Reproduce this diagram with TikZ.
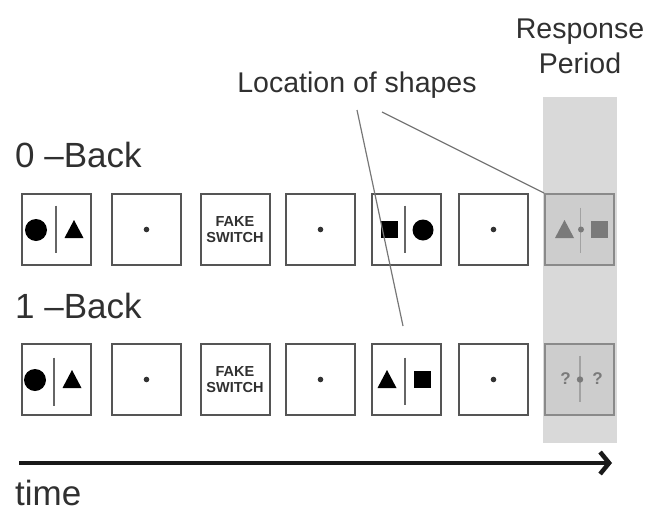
\documentclass[tikz,border=0pt]{standalone}
\usepackage{fontspec}
\setmainfont{Liberation Sans}
\usetikzlibrary{arrows.meta,calc}
\definecolor{boxgray}{HTML}{555555}
\definecolor{txtgray}{HTML}{303030}
\definecolor{bandgray}{HTML}{D9D9D9}
\definecolor{respfill}{HTML}{CDCDCD}
\definecolor{respdraw}{HTML}{8A8A8A}
\definecolor{respshape}{HTML}{7A7A7A}
\definecolor{leadgray}{HTML}{777777}
\tikzset{
  frame/.style={draw=boxgray, line width=2pt, minimum width=69pt, minimum height=71pt, inner sep=0pt, fill=white},
  respframe/.style={frame, draw=respdraw, fill=respfill},
  biglbl/.style={font=\fontsize{35}{40}\selectfont, text=txtgray, inner sep=0pt},
  midlbl/.style={font=\fontsize{28.5}{35}\selectfont, text=txtgray, inner sep=0pt, align=center},
  fake/.style={font=\fontsize{14.5}{16}\selectfont\bfseries, text=txtgray, align=center, inner sep=0pt},
  lead/.style={draw=leadgray, line width=1.2pt},
  divider/.style={line width=1.2pt},
  tri/.pic={\fill (-9.5,8.5) -- (9.5,8.5) -- (0,-9.5) -- cycle;},
  sq/.pic={\fill (-8.5,-8.5) rectangle (8.5,8.5);},
}
\begin{document}
\begin{tikzpicture}[x=1pt,y=-1pt]
\useasboundingbox (0,0) rectangle (652,514);
% response band
\fill[bandgray] (543,97) rectangle (617,443);
% labels
\node[midlbl, anchor=base] (loc) at (357,92) {Location of shapes};
\node[midlbl, anchor=base] (resp1) at (580,38) {Response};
\node[midlbl, anchor=base] (resp2) at (580,73) {Period};
\node[biglbl, anchor=base west] (zero) at (15,167) {0 –Back};
\node[biglbl, anchor=base west] (one) at (15,318) {1 –Back};
\node[biglbl, anchor=base west] (time) at (15,505) {time};
% top row
\node[frame] (a1) at (56,229.5) {};
\node[frame] (a2) at (146.5,229.5) {};
\node[frame] (a3) at (235,229.5) {};
\node[frame] (a4) at (320.5,229.5) {};
\node[frame] (a5) at (406,229.5) {};
\node[frame] (a6) at (493.5,229.5) {};
\node[respframe] (a7) at (579.5,229.5) {};
% bottom row
\node[frame] (b1) at (56,379.5) {};
\node[frame] (b2) at (146.5,379.5) {};
\node[frame] (b3) at (235,379.5) {};
\node[frame] (b4) at (320.5,379.5) {};
\node[frame] (b5) at (406,379.5) {};
\node[frame] (b6) at (493.5,379.5) {};
\node[respframe] (b7) at (579.5,379.5) {};
% fake switch
\node[fake] (f1) at (a3) {FAKE\\SWITCH};
\node[fake] (f2) at (b3) {FAKE\\SWITCH};
% fixation dots
\foreach \b in {a2,a4,a6,b2,b4,b6}{\fill[black!80] (\b) circle (2.8pt);}
% top row box 1: circle | triangle
\draw[divider, black!60] ($(a1)+(0,-24)$) -- ($(a1)+(0,23)$);
\fill ($(a1)+(-20,0.5)$) circle (11pt);
\pic at ($(a1)+(18,0)$) {tri};
% top row box 5: square | circle
\draw[divider, black!60] ($(a5)+(-1,-24)$) -- ($(a5)+(-1,23)$);
\pic at ($(a5)+(-17,-0.5)$) {sq};
\fill ($(a5)+(17,0.5)$) circle (10.5pt);
% top response: triangle . square
\draw[divider, respshape!70] ($(a7)+(1,-22)$) -- ($(a7)+(1,23)$);
\pic[respshape] at ($(a7)+(-15,0)$) {tri};
\fill[respshape] ($(a7)+(1.5,0)$) circle (3pt);
\pic[respshape] at ($(a7)+(19.5,0)$) {sq};
% bottom row box 1
\draw[divider, black!60] ($(b1)+(-2,-22)$) -- ($(b1)+(-2,26)$);
\fill ($(b1)+(-21,0.5)$) circle (11pt);
\pic at ($(b1)+(16,0)$) {tri};
% bottom row box 5: triangle | square
\draw[divider, black!60] ($(b5)+(-1,-22)$) -- ($(b5)+(-1,25)$);
\pic at ($(b5)+(-19,0)$) {tri};
\pic at ($(b5)+(16,0)$) {sq};
% bottom response: ? . ?
\draw[divider, respshape!70] ($(b7)+(0.5,-24)$) -- ($(b7)+(0.5,22)$);
\node[font=\fontsize{17}{17}\selectfont\bfseries, text=respshape, inner sep=0pt] (q1) at ($(b7)+(-14,-1)$) {?};
\node[font=\fontsize{17}{17}\selectfont\bfseries, text=respshape, inner sep=0pt] (q2) at ($(b7)+(18,-1)$) {?};
\fill[respshape] ($(b7)+(0.5,0)$) circle (3.2pt);
% leader lines
\coordinate (l1) at (357,110);
\coordinate (l2) at (382,112);
\coordinate (l1end) at (403,326);
\draw[lead] (l1) -- (l1end);
\draw[lead] (l2) -- (a7.north west);
% time arrow
\coordinate (t0) at (19,463);
\coordinate (t1) at (612,463);
\draw[line width=4.5pt, black!90, -{Straight Barb[length=9pt,width=22pt,line width=4.5pt]}] (t0) -- (t1);
\end{tikzpicture}
\end{document}
